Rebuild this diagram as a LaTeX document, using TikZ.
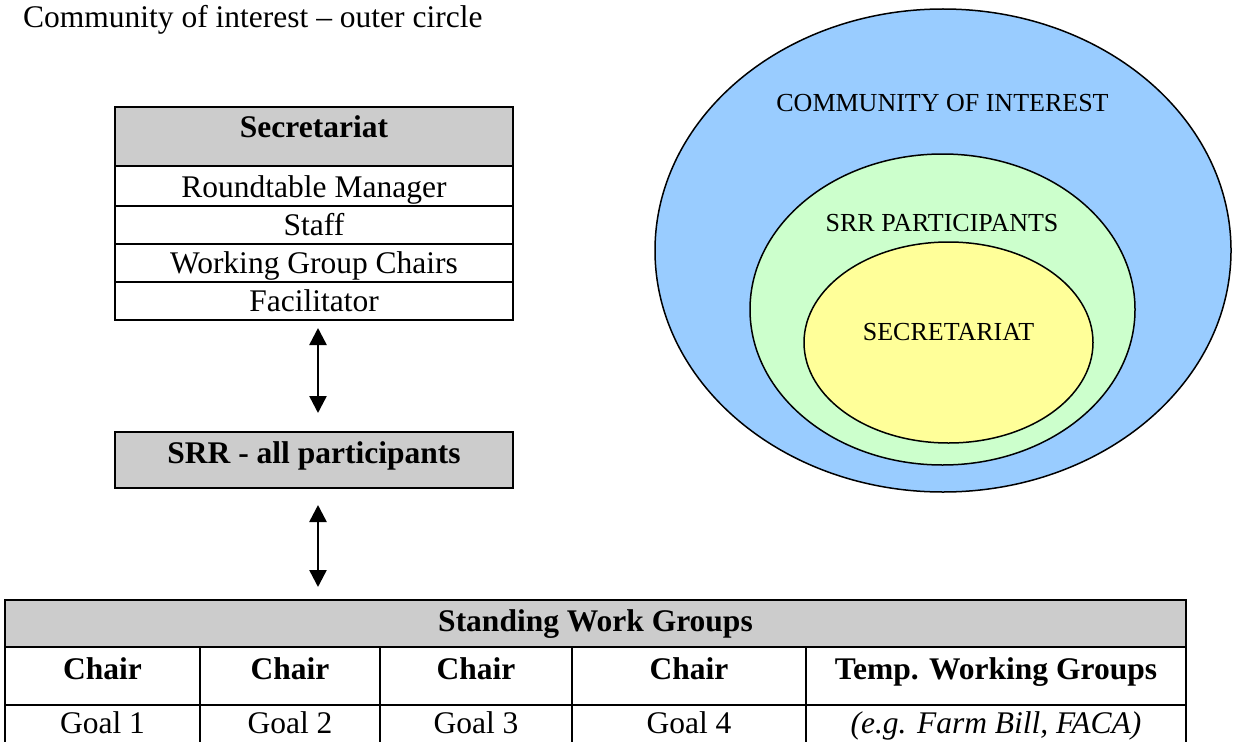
\documentclass[tikz,border=0pt]{standalone}
\usepackage{fontspec}
\setmainfont{Liberation Serif}
\usetikzlibrary{arrows.meta,shapes.geometric}
\definecolor{hdrgray}{HTML}{CCCCCC}
\definecolor{coiblue}{HTML}{99CCFF}
\definecolor{srrgreen}{HTML}{CCFFCC}
\definecolor{secyellow}{HTML}{FFFF99}
\begin{document}
\begin{tikzpicture}[x=1pt,y=-1pt,
  cellbox/.style={draw, line width=2pt, inner sep=0pt, outer sep=0pt, rectangle},
  hdr/.style={cellbox, fill=hdrgray},
  txt/.style={inner sep=0pt, anchor=base, font=\fontsize{31.5}{36}\selectfont},
  btxt/.style={inner sep=0pt, anchor=base, font=\fontsize{31.5}{36}\selectfont\bfseries},
  itxt/.style={inner sep=0pt, anchor=base, font=\fontsize{31.5}{36}\selectfont\itshape},
  etxt/.style={inner sep=0pt, anchor=base, font=\fontsize{26}{30}\selectfont},
  ring/.style={draw, line width=1.5pt, ellipse, inner sep=0pt},
  twoway/.style={{Triangle[width=17pt,length=17pt]}-{Triangle[width=17pt,length=17pt]}, line width=2.5pt}]
\useasboundingbox (0,0) rectangle (1233,741);
\clip (0,0) rectangle (1233,741);

% title
\node[txt, anchor=base west] (title) at (23,28) {Community of interest -- outer circle};

% Secretariat box
\node[hdr, minimum width=398, minimum height=59] (sechead) at (314,136.5) {};
\node[cellbox, minimum width=398, minimum height=40] (secrow1) at (314,186) {};
\node[cellbox, minimum width=398, minimum height=38] (secrow2) at (314,225) {};
\node[cellbox, minimum width=398, minimum height=38] (secrow3) at (314,263) {};
\node[cellbox, minimum width=398, minimum height=38] (secrow4) at (314,301) {};
\node[btxt] (sechtxt) at (314,137) {Secretariat};
\node[txt] (r1txt) at (314,197) {Roundtable Manager};
\node[txt] (r2txt) at (314,235) {Staff};
\node[txt] (r3txt) at (314,273) {Working Group Chairs};
\node[txt] (r4txt) at (314,311) {Facilitator};

% SRR box
\node[hdr, minimum width=398, minimum height=56] (srr) at (314,460) {};
\node[btxt] (srrtxt) at (314,463) {SRR - all participants};

% Standing work groups table
\node[hdr, minimum width=1181, minimum height=47] (twg) at (595.5,623.5) {};
\node[btxt] (twgtxt) at (595.5,631) {Standing Work Groups};
\node[cellbox, minimum width=195, minimum height=58] (c1) at (102.5,676) {};
\node[cellbox, minimum width=180, minimum height=58] (c2) at (290,676) {};
\node[cellbox, minimum width=192, minimum height=58] (c3) at (476,676) {};
\node[cellbox, minimum width=234, minimum height=58] (c4) at (689,676) {};
\node[cellbox, minimum width=380, minimum height=58] (c5) at (996,676) {};
\node[btxt] (c1t) at (102.5,679) {Chair};
\node[btxt] (c2t) at (290,679) {Chair};
\node[btxt] (c3t) at (476,679) {Chair};
\node[btxt] (c4t) at (689,679) {Chair};
\node[btxt] (c5t) at (996,679) {Temp. Working Groups};
\node[cellbox, minimum width=195, minimum height=65] (g1) at (102.5,737.5) {};
\node[cellbox, minimum width=180, minimum height=65] (g2) at (290,737.5) {};
\node[cellbox, minimum width=192, minimum height=65] (g3) at (476,737.5) {};
\node[cellbox, minimum width=234, minimum height=65] (g4) at (689,737.5) {};
\node[cellbox, minimum width=380, minimum height=65] (g5) at (996,737.5) {};
\node[txt] (g1t) at (102.5,733) {Goal 1};
\node[txt] (g2t) at (290,733) {Goal 2};
\node[txt] (g3t) at (476,733) {Goal 3};
\node[txt] (g4t) at (689,733) {Goal 4};
\node[itxt] (g5t) at (996,733) {(e.g. Farm Bill, FACA)};

% arrows
\draw[twoway, shorten <=8pt, shorten >=19pt] ([xshift=4pt]secrow4.south) -- ([xshift=4pt]srr.north);
\draw[twoway, shorten <=17pt, shorten >=13pt] ([xshift=4pt]srr.south) -- ([xshift=4pt]srr.south |- twg.north);

% nested ellipses
\node[ring, fill=coiblue, minimum width=576, minimum height=483] (coi) at (943,250.5) {};
\node[ring, fill=srrgreen, minimum width=385, minimum height=311] (srrp) at (942.5,309.5) {};
\node[ring, fill=secyellow, minimum width=289, minimum height=201] (secr) at (948.5,342.5) {};
\node[etxt] (coit) at (942.5,112) {COMMUNITY OF INTEREST};
\node[etxt] (srrpt) at (942,231) {SRR PARTICIPANTS};
\node[etxt] (secrt) at (948.5,340) {SECRETARIAT};
\end{tikzpicture}
\end{document}
